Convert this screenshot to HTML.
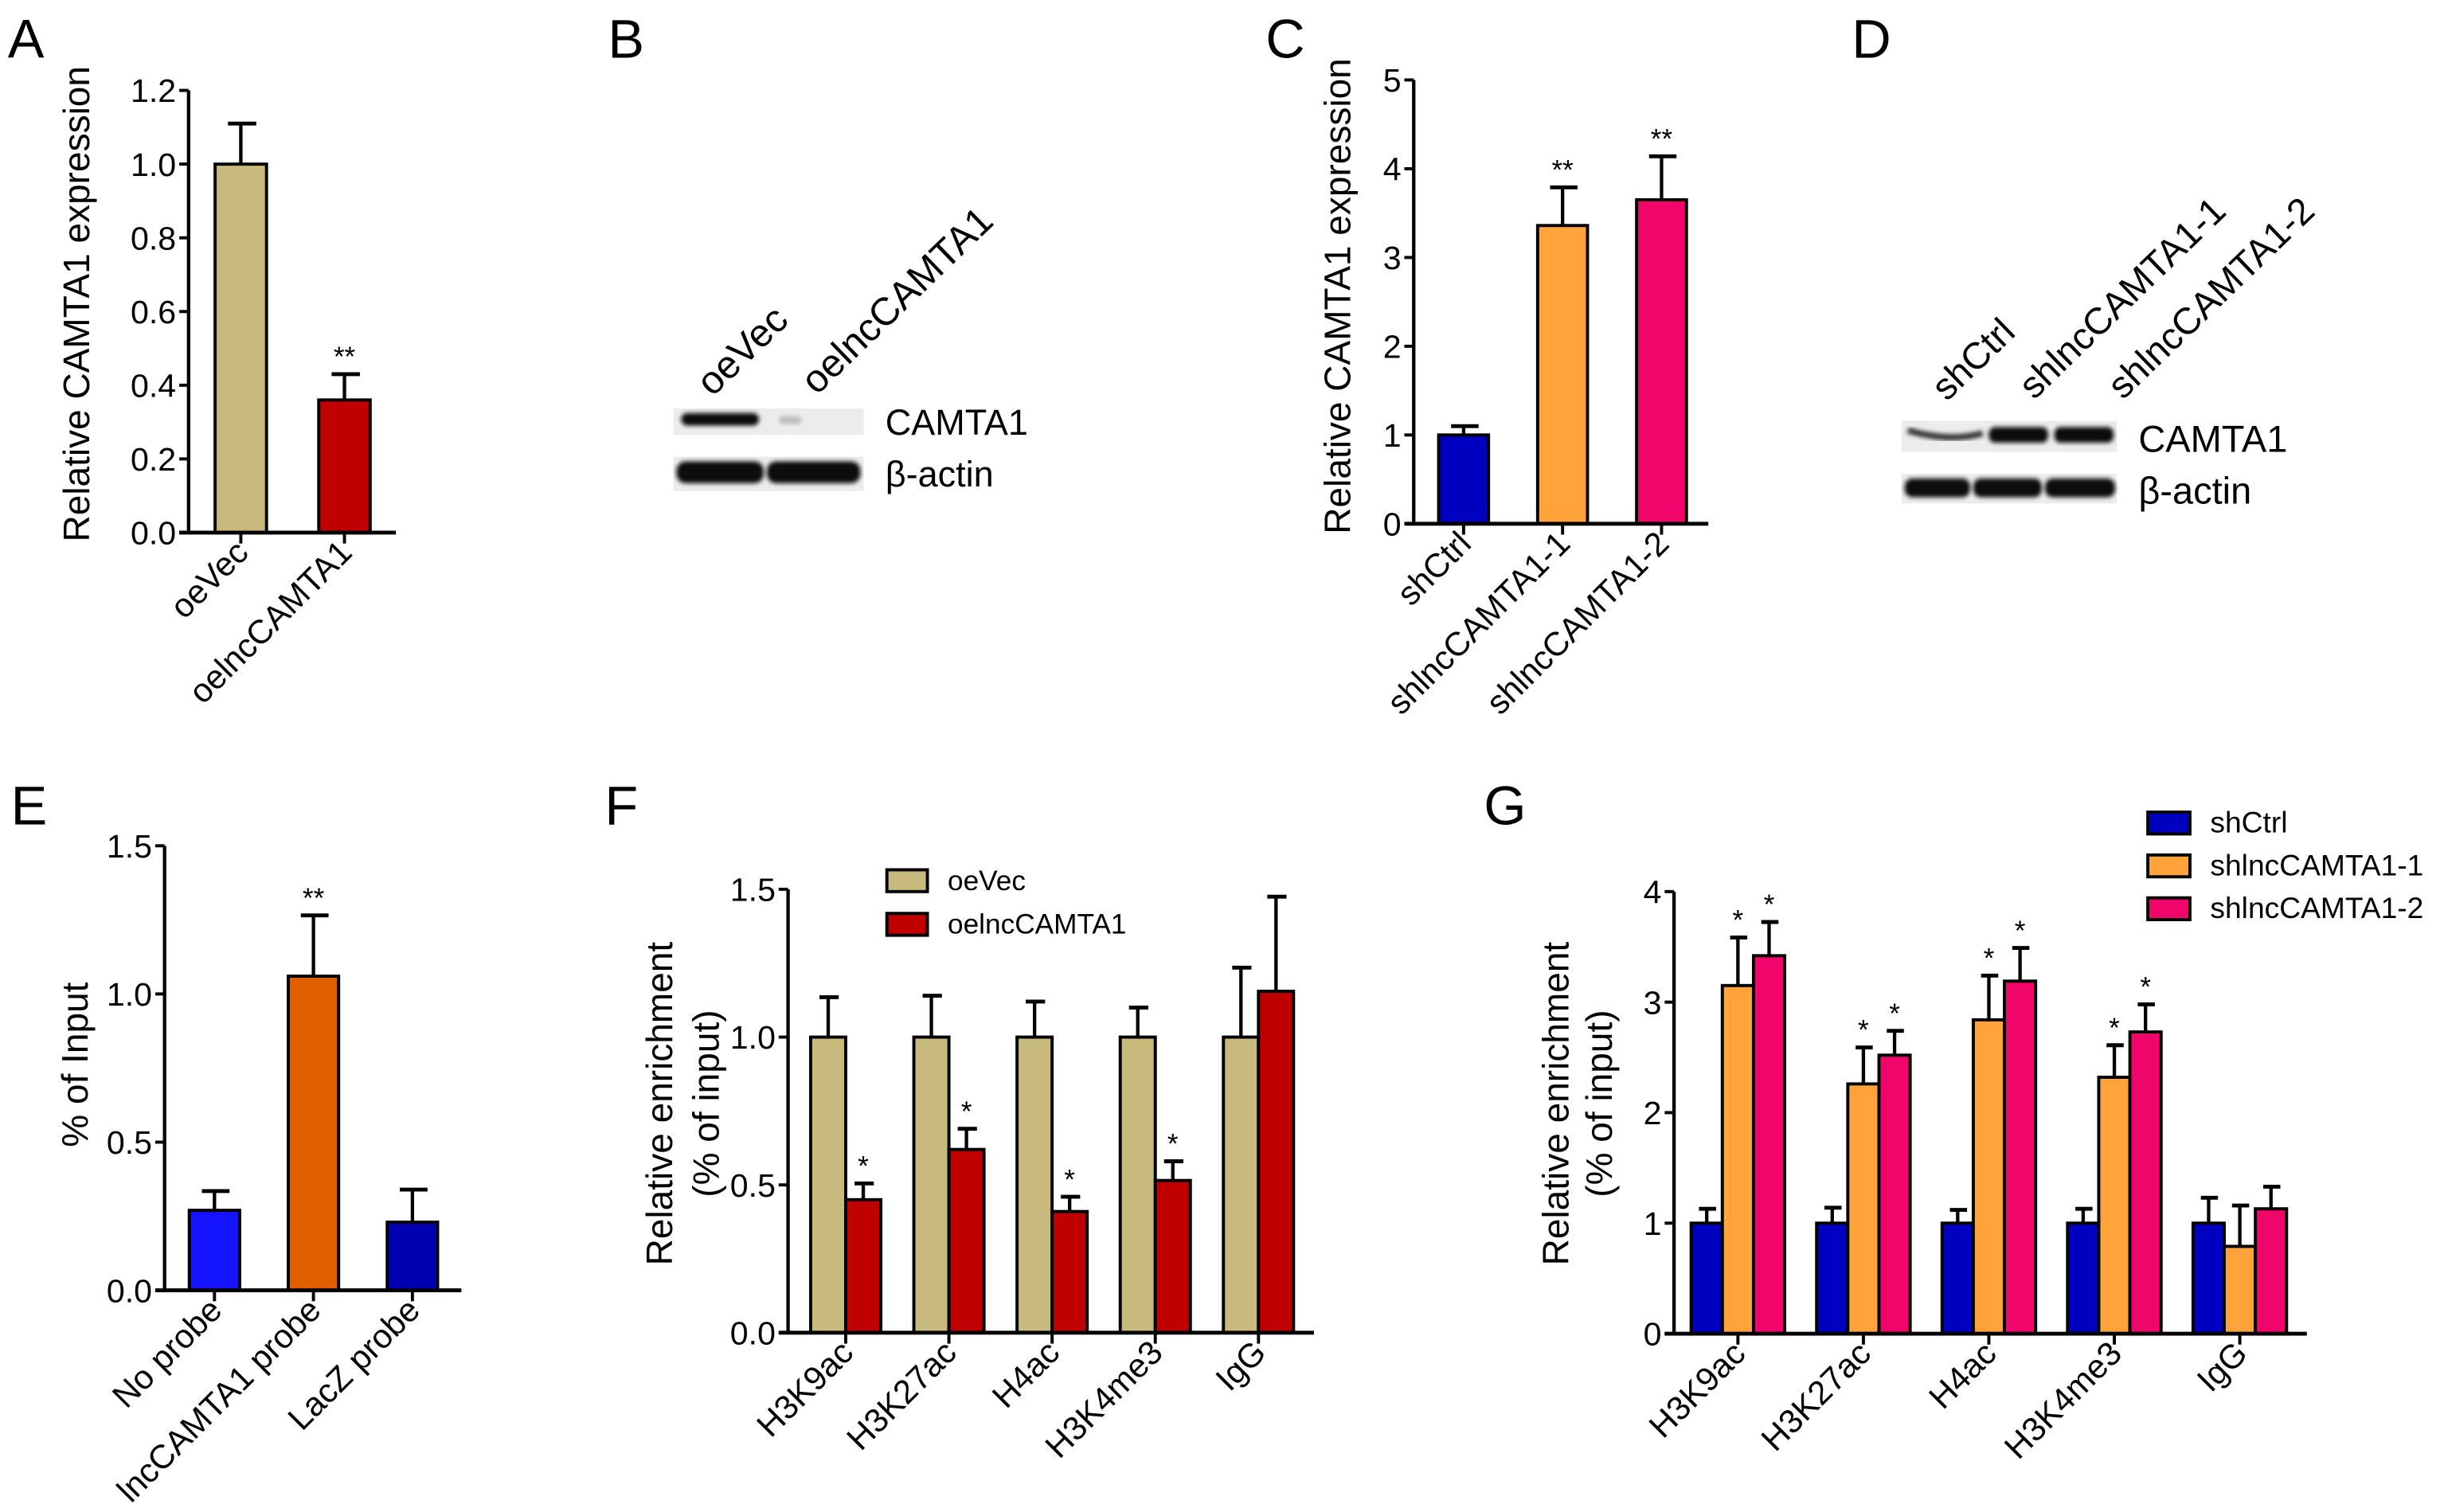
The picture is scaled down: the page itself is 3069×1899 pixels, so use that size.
<!DOCTYPE html>
<html><head><meta charset="utf-8"><style>
html,body{margin:0;padding:0;background:#fff;}
svg{display:block;font-family:"Liberation Sans",Arial,sans-serif;}
</style></head><body>
<svg id="fig" width="3069" height="1899" viewBox="0 0 1568 970" preserveAspectRatio="none" xmlns="http://www.w3.org/2000/svg">
<defs><filter id="blur" x="-10%" y="-50%" width="120%" height="200%"><feGaussianBlur stdDeviation="1.3"/></filter></defs>
<rect width="1568" height="970" fill="#fff"/>
<g font-size="35" fill="#000">
<text x="5" y="37">A</text>
<text x="390" y="37">B</text>
<text x="812" y="37">C</text>
<text x="1188" y="37">D</text>
<text x="7" y="529">E</text>
<text x="388" y="529">F</text>
<text x="952" y="529">G</text>
</g>
<!-- Blot B -->
<g>
<text transform="translate(457,255) rotate(-44)" font-size="25">oeVec</text>
<text transform="translate(524,254) rotate(-44)" font-size="25">oelncCAMTA1</text>
<rect x="432" y="262" width="122" height="17" fill="#ececec"/>
<rect x="437" y="265" width="50" height="8" rx="4" fill="#111" filter="url(#blur)"/>
<rect x="500" y="267" width="14" height="5" rx="2" fill="#bbb" filter="url(#blur)"/>
<rect x="432" y="293" width="122" height="22" fill="#ececec"/>
<rect x="434" y="296" width="56" height="14" rx="6" fill="#111" filter="url(#blur)"/>
<rect x="492" y="296" width="60" height="14" rx="6" fill="#111" filter="url(#blur)"/>
<text x="568" y="279" font-size="23">CAMTA1</text>
<text x="568" y="312" font-size="23">β-actin</text>
</g>
<!-- Blot D -->
<g>
<text transform="translate(1249,258) rotate(-44)" font-size="24">shCtrl</text>
<text transform="translate(1305,257) rotate(-44)" font-size="24">shlncCAMTA1-1</text>
<text transform="translate(1362,257) rotate(-44)" font-size="24">shlncCAMTA1-2</text>
<rect x="1220" y="270" width="138" height="20" fill="#ececec"/>
<path d="M1224 276 Q1250 284 1272 278" stroke="#333" stroke-width="4" fill="none" filter="url(#blur)"/>
<rect x="1276" y="274" width="38" height="10" rx="4" fill="#111" filter="url(#blur)"/>
<rect x="1318" y="274" width="38" height="10" rx="4" fill="#111" filter="url(#blur)"/>
<rect x="1220" y="304" width="138" height="19" fill="#ececec"/>
<rect x="1222" y="307" width="42" height="12" rx="5" fill="#111" filter="url(#blur)"/>
<rect x="1266" y="307" width="44" height="12" rx="5" fill="#111" filter="url(#blur)"/>
<rect x="1312" y="307" width="45" height="12" rx="5" fill="#111" filter="url(#blur)"/>
<text x="1372" y="290" font-size="24">CAMTA1</text>
<text x="1372" y="323" font-size="24">β-actin</text>
</g>
<g id="charts"></g>
</svg>
<script>
// Panel A data
const catsA = ["oeVec", "oelncCAMTA1"];
const valsA = [1.0, 0.36];
const errsA = [1.11, 0.43];
const starsA = ["", "**"];
const ticksA = [0, 0.2, 0.4, 0.6, 0.8, 1.0, 1.2];
const tickLabelsA = ["0.0", "0.2", "0.4", "0.6", "0.8", "1.0", "1.2"];
// Panel C data
const catsC = ["shCtrl", "shlncCAMTA1-1", "shlncCAMTA1-2"];
const valsC = [1.0, 3.36, 3.65];
const errsC = [1.1, 3.79, 4.14];
const starsC = ["", "**", "**"];
const ticksC = [0, 1, 2, 3, 4, 5];
const tickLabelsC = ["0", "1", "2", "3", "4", "5"];
// Panel E data
const catsE = ["No probe", "lncCAMTA1 probe", "LacZ probe"];
const valsE = [0.27, 1.06, 0.23];
const errsE = [0.335, 1.265, 0.34];
const starsE = ["", "**", ""];
const ticksE = [0, 0.5, 1.0, 1.5];
const tickLabelsE = ["0.0", "0.5", "1.0", "1.5"];
// Panel F data
const catsF = ["H3K9ac", "H3K27ac", "H4ac", "H3K4me3", "IgG"];
const seriesNamesF = ["oeVec", "oelncCAMTA1"];
const oeVecF = [1, 1, 1, 1, 1];
const oeVecErrF = [1.135, 1.14, 1.12, 1.10, 1.235];
const oelncF = [0.45, 0.62, 0.41, 0.515, 1.155];
const oelncErrF = [0.505, 0.69, 0.46, 0.58, 1.475];
const oelncStarsF = ["*", "*", "*", "*", ""];
const ticksF = [0, 0.5, 1.0, 1.5];
const tickLabelsF = ["0.0", "0.5", "1.0", "1.5"];
// Panel G data
const catsG = ["H3K9ac", "H3K27ac", "H4ac", "H3K4me3", "IgG"];
const seriesNamesG = ["shCtrl", "shlncCAMTA1-1", "shlncCAMTA1-2"];
const shCtrlG = [1, 1, 1, 1, 1];
const shCtrlErrG = [1.13, 1.14, 1.12, 1.13, 1.23];
const sh1G = [3.15, 2.26, 2.84, 2.32, 0.79];
const sh1ErrG = [3.585, 2.59, 3.24, 2.61, 1.16];
const sh2G = [3.42, 2.52, 3.19, 2.73, 1.13];
const sh2ErrG = [3.725, 2.74, 3.49, 2.98, 1.33];
const sh1StarsG = ["*", "*", "*", "*", ""];
const sh2StarsG = ["*", "*", "*", "*", ""];
const ticksG = [0, 1, 2, 3, 4];
const tickLabelsG = ["0", "1", "2", "3", "4"];

const NS = "http://www.w3.org/2000/svg";
const root = document.getElementById("charts");
function mk(tag, attrs, parent, text) {
  const e = document.createElementNS(NS, tag);
  for (const k in attrs) e.setAttribute(k, attrs[k]);
  if (text !== undefined) e.textContent = text;
  (parent || root).appendChild(e);
  return e;
}
function chart(c) {
  const g = mk("g", {});
  
  
  const maxV = c.ticks[c.ticks.length - 1];
  const y = v => c.y0 - (v / maxV) * (c.y0 - c.yTop);
  const cx = i => c.x0 + c.offset + i * c.step;
  const n = c.series.length;
  c.series.forEach((s, si) => {
    s.vals.forEach((v, i) => {
      const left = cx(i) - n * c.bw / 2 + si * c.bw;
      const mid = left + c.bw / 2;
      const eb = mk("line", {x1: mid, x2: mid, y1: y(v), y2: y(s.errs[i]), stroke: "#000", "stroke-width": 2.2}, g);
      
      
      const cap = mk("line", {x1: mid - c.bw * 0.25, x2: mid + c.bw * 0.3, y1: y(s.errs[i]), y2: y(s.errs[i]), stroke: "#000", "stroke-width": 2.5}, g);
      
      
      const r = mk("rect", {x: left, y: y(v), width: c.bw, height: c.y0 - y(v), fill: s.colors ? s.colors[i] : s.color, stroke: "#000", "stroke-width": 2}, g);
      
      
      if (s.stars && s.stars[i]) {
        const st = mk("text", {x: mid, y: y(s.errs[i]) - 5, "font-size": 18, "text-anchor": "middle"}, g, s.stars[i]);
        
        
      }
    });
  });
  const ya = mk("line", {x1: c.x0, x2: c.x0, y1: c.y0 + 1, y2: c.yTop, stroke: "#000", "stroke-width": 2.2}, g);
  
  
  const xa = mk("line", {x1: c.x0 - 6, x2: c.x1, y1: c.y0, y2: c.y0, stroke: "#000", "stroke-width": 2.5}, g);
  
  
  c.ticks.forEach((t, i) => {
    mk("line", {x1: c.x0 - 6, x2: c.x0, y1: y(t), y2: y(t), stroke: "#000", "stroke-width": 2}, g);
    const tl = mk("text", {x: c.x0 - 8, y: y(t) + 7.5, "font-size": 21, "text-anchor": "end"}, g, c.tickLabels[i]);
    
    
  });
  c.cats.forEach((cat, i) => {
    mk("line", {x1: cx(i), x2: cx(i), y1: c.y0, y2: c.y0 + 7, stroke: "#000", "stroke-width": 2}, g);
    const xl = mk("text", {transform: `translate(${cx(i) + 6},${c.y0 + 14}) rotate(-45)`, "font-size": 21.5, "text-anchor": "end"}, g, cat);
    
    
  });
  c.title.forEach((line, i) => {
    const tt = mk("text", {transform: `translate(${c.titleX[i]},${c.titleY}) rotate(-90)`, "font-size": 23.5, "text-anchor": "middle", "dominant-baseline": "middle"}, g, line);
    
    
  });
  return g;
}

chart({name: "chart-a", x0: 121, x1: 254, y0: 341.7, yTop: 58, ticks: ticksA, tickLabels: tickLabelsA,
  offset: 33.5, step: 66.5, bw: 33, cats: catsA,
  series: [{vals: valsA, errs: errsA, colors: ["#c8b97c", "#c00000"], stars: starsA}],
  title: ["Relative CAMTA1 expression"], titleX: [51], titleY: 195});
chart({name: "chart-c", x0: 907, x1: 1096, y0: 336, yTop: 51.3, ticks: ticksC, tickLabels: tickLabelsC,
  offset: 32, step: 63.5, bw: 32, cats: catsC,
  series: [{vals: valsC, errs: errsC, colors: ["#0000c0", "#ffa33a", "#f0066a"], stars: starsC}],
  title: ["Relative CAMTA1 expression"], titleX: [860], titleY: 190});
chart({name: "chart-e", x0: 105.6, x1: 296, y0: 827.8, yTop: 542.6, ticks: ticksE, tickLabels: tickLabelsE,
  offset: 32, step: 63.5, bw: 32.3, cats: catsE,
  series: [{vals: valsE, errs: errsE, colors: ["#1414ff", "#e06000", "#0000b0"], stars: starsE}],
  title: ["% of Input"], titleX: [50], titleY: 683});
chart({name: "chart-f", x0: 505.6, x1: 843, y0: 855, yTop: 570.5, ticks: ticksF, tickLabels: tickLabelsF,
  offset: 37, step: 66.2, bw: 22.5, cats: catsF,
  series: [{vals: oeVecF, errs: oeVecErrF, color: "#c8b97c"},
           {vals: oelncF, errs: oelncErrF, color: "#c00000", stars: oelncStarsF}],
  title: ["Relative enrichment", "(% of input)"], titleX: [425, 455], titleY: 708});
chart({name: "chart-g", x0: 1074, x1: 1480, y0: 855.6, yTop: 572, ticks: ticksG, tickLabels: tickLabelsG,
  offset: 41, step: 80.5, bw: 20, cats: catsG,
  series: [{vals: shCtrlG, errs: shCtrlErrG, color: "#0000c0"},
           {vals: sh1G, errs: sh1ErrG, color: "#ffa33a", stars: sh1StarsG},
           {vals: sh2G, errs: sh2ErrG, color: "#f0066a", stars: sh2StarsG}],
  title: ["Relative enrichment", "(% of input)"], titleX: [1000, 1028], titleY: 708});

function legend(names, colors, x, y0, dy, tx, size, w, h) {
  names.forEach((nm, i) => {
    const r = mk("rect", {x: x, y: y0 + i * dy, width: w, height: h, fill: colors[i], stroke: "#000", "stroke-width": 2});
    
    
    const t = mk("text", {x: tx, y: y0 + i * dy + h / 2 + 6, "font-size": size}, root, nm);
    
    
  });
}
legend(seriesNamesF, ["#c8b97c", "#c00000"], 569, 558, 28, 608, 18, 26, 14);
legend(seriesNamesG, ["#0000c0", "#ffa33a", "#f0066a"], 1378, 521, 27.5, 1418, 19, 27, 14);
</script>
</body></html>
